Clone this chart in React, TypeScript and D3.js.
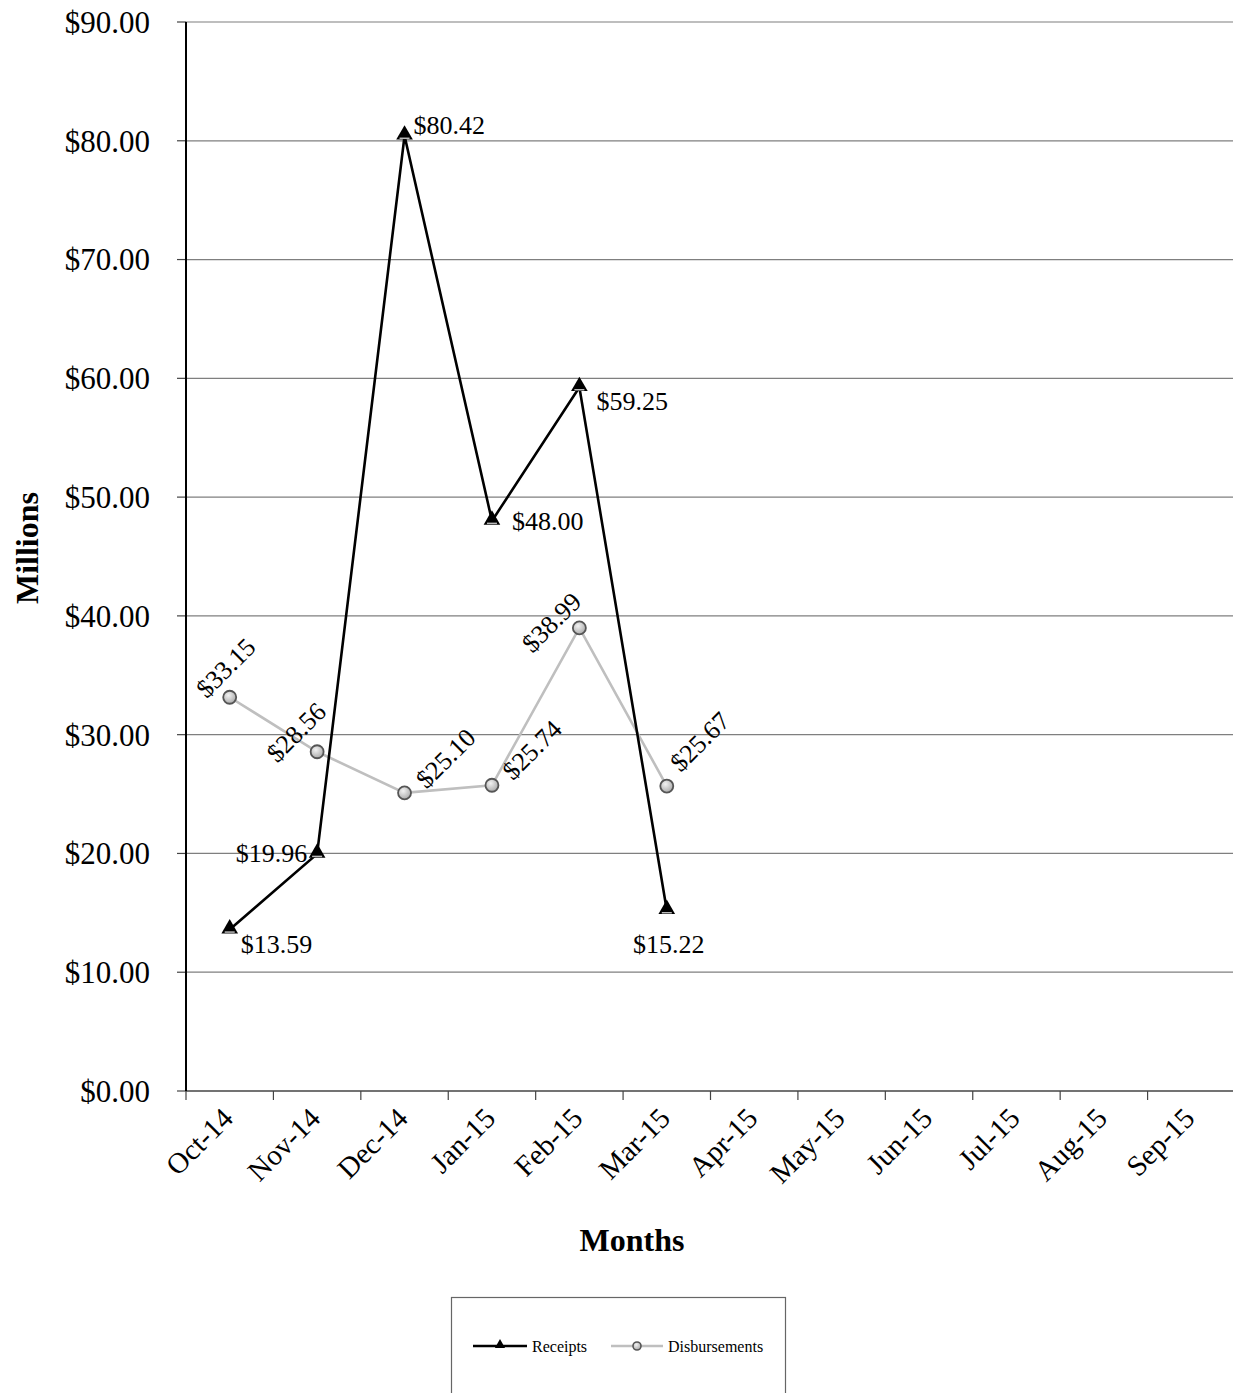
import * as d3 from 'd3';

// Monthly receipts vs disbursements (millions)
const months = ['Oct-14', 'Nov-14', 'Dec-14', 'Jan-15', 'Feb-15', 'Mar-15', 'Apr-15', 'May-15', 'Jun-15', 'Jul-15', 'Aug-15', 'Sep-15'];
const receipts = [13.59, 19.96, 80.42, 48.0, 59.25, 15.22];
const disbursements = [33.15, 28.56, 25.1, 25.74, 38.99, 25.67];
const yTicks = [0, 10, 20, 30, 40, 50, 60, 70, 80, 90];

// label placement, relative to the point
const receiptLabelPos: [number, number, string][] = [
  [11, 23, 'start'], [-10, 8, 'end'], [9, -2, 'start'], [20, 9, 'start'], [17, 23, 'start'], [2, 43, 'middle'],
];
const disbLabelPos: [number, number][] = [
  [-23, 2], [-40, 12], [22, -3], [21, -4], [-47, 26], [14, -13],
];

const W = 1233;
const H = 1393;
const margin = { top: 22, right: -2, bottom: 302, left: 186 };
const serif = '"Liberation Serif", "Times New Roman", serif';

export default function App() {
  const innerW = W - margin.left - margin.right;
  const innerH = H - margin.top - margin.bottom;

  const x = d3.scaleBand<string>().domain(months).range([0, innerW]);
  const y = d3.scaleLinear().domain([0, 90]).range([innerH, 0]);
  const cx = (i: number) => (x(months[i]) ?? 0) + x.bandwidth() / 2;

  const line = d3.line<number>().x((_, i) => cx(i)).y(d => y(d));
  const tri = d3.symbol(d3.symbolTriangle, 120)();
  const fmt = (v: number) => `$${v.toFixed(2)}`;

  return (
    <svg width={W} height={H} style={{ position: 'absolute', left: 0, top: 0, background: '#fff', fontFamily: serif }}>
      <defs>
        <radialGradient id="dot" cx="40%" cy="35%" r="70%">
          <stop offset="0%" stopColor="#f2f2f2" />
          <stop offset="100%" stopColor="#a6a6a6" />
        </radialGradient>
      </defs>
      <g transform={`translate(${margin.left},${margin.top})`}>
        {/* gridlines + y axis */}
        {yTicks.map(t => (
          <g key={t}>
            <line x1={0} x2={innerW} y1={y(t)} y2={y(t)} stroke={t === 0 ? '#444' : '#7f7f7f'} strokeWidth={t === 0 ? 1.6 : 1.2} />
            <line x1={-9} x2={0} y1={y(t)} y2={y(t)} stroke="#444" strokeWidth={1.2} />
            <text x={-36} y={y(t)} dy="0.35em" textAnchor="end" fontSize={31} fill="#000">{fmt(t)}</text>
          </g>
        ))}
        <line x1={0} x2={0} y1={0} y2={innerH} stroke="#000" strokeWidth={2} />

        {/* x axis */}
        {months.map((m, i) => (
          <g key={m}>
            <line x1={x(m) ?? 0} x2={x(m) ?? 0} y1={innerH} y2={innerH + 9} stroke="#444" strokeWidth={1.2} />
            <text
              transform={`translate(${cx(i) + 5},${innerH + 29}) rotate(-45)`}
              textAnchor="end"
              fontSize={29}
              fill="#000"
            >{m}</text>
          </g>
        ))}

        {/* disbursements */}
        <path d={line(disbursements) ?? ''} fill="none" stroke="#bfbfbf" strokeWidth={2.6} />
        {disbursements.map((v, i) => (
          <circle key={i} cx={cx(i)} cy={y(v)} r={6.5} fill="url(#dot)" stroke="#555" strokeWidth={1.8} />
        ))}

        {/* receipts */}
        <path d={line(receipts) ?? ''} fill="none" stroke="#000" strokeWidth={2.6} />
        {receipts.map((v, i) => (
          <g key={i} transform={`translate(${cx(i)},${y(v) - 1})`}>
            <path d={tri ?? ''} fill="#000" />
            <line x1={-5} x2={5} y1={3.5} y2={3.5} stroke="#bbb" strokeWidth={1.5} />
          </g>
        ))}

        {/* labels */}
        {receipts.map((v, i) => (
          <text key={i} x={cx(i) + receiptLabelPos[i][0]} y={y(v) + receiptLabelPos[i][1]}
            textAnchor={receiptLabelPos[i][2]} fontSize={26} fill="#000">{fmt(v)}</text>
        ))}
        {disbursements.map((v, i) => (
          <text key={i}
            transform={`translate(${cx(i) + disbLabelPos[i][0]},${y(v) + disbLabelPos[i][1]}) rotate(-45)`}
            fontSize={26} fill="#000">{fmt(v)}</text>
        ))}
      </g>

      {/* axis titles */}
      <text transform={`translate(38,548) rotate(-90)`} textAnchor="middle" fontSize={32} fontWeight="bold">Millions</text>
      <text x={632} y={1251} textAnchor="middle" fontSize={32} fontWeight="bold">Months</text>

      {/* legend */}
      <rect x={451.5} y={1297.5} width={334} height={110} fill="#fff" stroke="#666" strokeWidth={1.2} />
      <g transform="translate(0,1346)">
        <line x1={473} x2={527} y1={0} y2={0} stroke="#000" strokeWidth={2.4} />
        <path d={d3.symbol(d3.symbolTriangle, 45)() ?? ''} transform="translate(500,-1)" fill="#000" />
        <text x={532} y={0} dy="0.35em" fontSize={16}>Receipts</text>
        <line x1={611} x2={663} y1={0} y2={0} stroke="#bfbfbf" strokeWidth={2.4} />
        <circle cx={637} cy={0} r={4} fill="url(#dot)" stroke="#555" strokeWidth={1.6} />
        <text x={668} y={0} dy="0.35em" fontSize={16}>Disbursements</text>
      </g>
    </svg>
  );
}
